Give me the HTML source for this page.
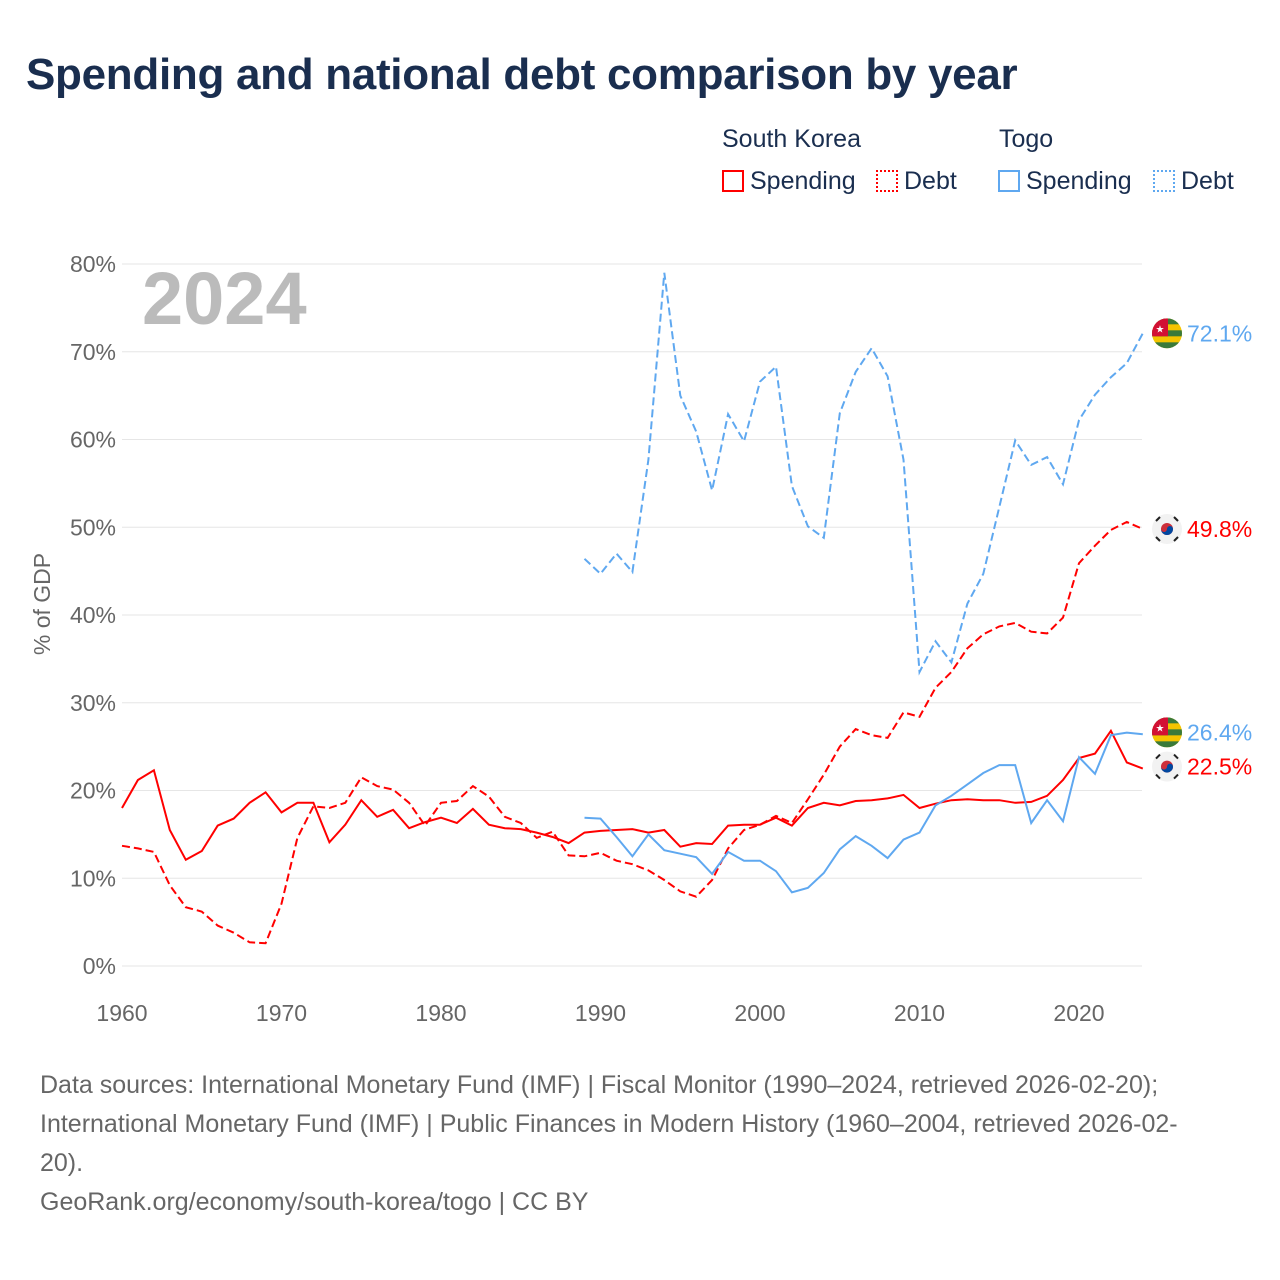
<!DOCTYPE html>
<html><head><meta charset="utf-8">
<style>
body{margin:0;background:#fff;font-family:"Liberation Sans",sans-serif;}
#wrap{position:relative;width:1280px;height:1280px;overflow:hidden}
h1{position:absolute;left:26px;top:50px;margin:0;font-size:44px;color:#1a2e4f;font-weight:bold;letter-spacing:-0.3px}
.lg{position:absolute;font-size:25px;color:#1a2e4f}
.sw{display:inline-block;width:22px;height:22px;vertical-align:-3px;margin-right:6px;box-sizing:border-box}
#src{position:absolute;left:40px;top:1066px;font-size:25px;color:#666;line-height:39px;width:1230px;white-space:nowrap}
</style></head><body>
<div id="wrap">
<h1>Spending and national debt comparison by year</h1>
<div class="lg" style="left:722px;top:125px">South Korea</div>
<div class="lg" style="left:999px;top:125px">Togo</div>
<div class="lg" style="left:722px;top:167px"><span class="sw" style="border:2px solid #f00"></span>Spending</div>
<div class="lg" style="left:876px;top:167px"><span class="sw" style="border:2px dotted #f00"></span>Debt</div>
<div class="lg" style="left:998px;top:167px"><span class="sw" style="border:2px solid #5fa8f0"></span>Spending</div>
<div class="lg" style="left:1153px;top:167px"><span class="sw" style="border:2px dotted #5fa8f0"></span>Debt</div>
<svg id="chart" width="1280" height="1280" style="position:absolute;left:0;top:0"></svg>
<div id="src">Data sources: International Monetary Fund (IMF) | Fiscal Monitor (1990–2024, retrieved 2026-02-20);<br>International Monetary Fund (IMF) | Public Finances in Modern History (1960–2004, retrieved 2026-02-<br>20).<br>GeoRank.org/economy/south-korea/togo | CC BY</div>
</div>
<script>
const yTicks=[0,10,20,30,40,50,60,70,80];
const xTicks=[1960,1970,1980,1990,2000,2010,2020];
const korYears0=1960;
const korSpending=[18.0,21.2,22.3,15.5,12.1,13.1,16.0,16.8,18.6,19.8,17.5,18.6,18.6,14.1,16.1,18.9,17.0,17.8,15.7,16.4,16.9,16.3,17.9,16.1,15.7,15.6,15.2,14.7,14.0,15.2,15.4,15.5,15.6,15.2,15.5,13.6,14.0,13.9,16.0,16.1,16.1,16.9,16.0,18.0,18.6,18.3,18.8,18.9,19.1,19.5,18.0,18.5,18.9,19.0,18.9,18.9,18.6,18.7,19.4,21.2,23.7,24.2,26.8,23.2,22.5];
const korDebt=[13.7,13.4,13.0,9.2,6.7,6.2,4.6,3.8,2.7,2.6,7.1,14.6,18.2,18.0,18.6,21.5,20.5,20.1,18.6,16.0,18.6,18.8,20.5,19.3,17.0,16.3,14.6,15.3,12.6,12.5,12.9,12.0,11.6,10.9,9.8,8.5,7.9,9.8,13.4,15.5,16.1,17.1,16.3,19.0,21.8,25.0,27.0,26.3,26.0,28.9,28.4,31.7,33.5,36.2,37.8,38.7,39.1,38.1,37.9,39.7,45.9,47.9,49.7,50.6,49.8];
const togYears0=1989;
const togSpending=[16.9,16.8,14.7,12.5,15.0,13.2,12.8,12.4,10.5,13.0,12.0,12.0,10.8,8.4,8.9,10.6,13.3,14.8,13.7,12.3,14.4,15.2,18.3,19.4,20.7,22.0,22.9,22.9,16.3,18.9,16.5,23.8,21.9,26.3,26.6,26.4];
const togDebt=[46.4,44.7,47.0,44.9,57.7,79.0,65.0,60.9,54.2,62.9,59.8,66.6,68.3,54.7,50.1,48.8,63.0,67.7,70.4,67.2,57.7,33.5,37.0,34.6,41.3,44.7,52.3,59.9,57.1,58.0,54.9,62.2,65.1,67.1,68.7,72.1];

const svg=document.getElementById('chart');
const NS='http://www.w3.org/2000/svg';
const X=y=>122+(y-1960)*(1079-122)/60;
const Y=v=>966-v*(966-264)/80;
function mk(t,a,txt){const e=document.createElementNS(NS,t);for(const k in a)e.setAttribute(k,a[k]);if(txt!=null)e.textContent=txt;svg.appendChild(e);return e;}
yTicks.forEach(v=>{
  const l=mk('line',{x1:122,x2:1142,y1:Y(v),y2:Y(v),stroke:'#e6e6e6','stroke-width':1});
  
  
  const t=mk('text',{x:116,y:Y(v)+8,'text-anchor':'end','font-size':23,fill:'#666'},v+'%');
  
  
});
xTicks.forEach(v=>{
  const t=mk('text',{x:X(v),y:1021,'text-anchor':'middle','font-size':23,fill:'#666'},v);
  
  
});
const yt=mk('text',{x:50,y:604,'text-anchor':'middle','font-size':23,fill:'#666',transform:'rotate(-90 50 604)'},'% of GDP');


const yr=mk('text',{x:142,y:324,'font-size':74,'font-weight':'bold',fill:'#bbb'},'2024');


function series(arr,y0,color,dash,name){
  const d=arr.map((v,i)=>(i?'L':'M')+X(y0+i).toFixed(1)+','+Y(v).toFixed(1)).join('');
  const p=mk('path',{d:d,fill:'none',stroke:color,'stroke-width':2,'stroke-dasharray':dash?'8,4':'none'});
  
  
}
series(korDebt,korYears0,'#f00',true,'line-korea-debt');
series(togDebt,togYears0,'#5fa8f0',true,'line-togo-debt');
series(korSpending,korYears0,'#f00',false,'line-korea-spending');
series(togSpending,togYears0,'#5fa8f0',false,'line-togo-spending');
function endLabel(arr,y0,color,flag,name,dy){
  const v=arr[arr.length-1],cy=Y(v)+(dy||0);
  const g=document.createElementNS(NS,'g');svg.appendChild(g);
  
  
  const cx=1167;
  if(flag==='togo'){
    g.innerHTML=`<clipPath id="c${name}"><circle cx="${cx}" cy="${cy}" r="15"/></clipPath><g clip-path="url(#c${name})"><rect x="${cx-15}" y="${cy-15}" width="30" height="30" fill="#f4c400"/><rect x="${cx-15}" y="${cy-15}" width="30" height="6" fill="#3a7a3a"/><rect x="${cx-15}" y="${cy-3}" width="30" height="6" fill="#3a7a3a"/><rect x="${cx-15}" y="${cy+9}" width="30" height="6" fill="#3a7a3a"/><rect x="${cx-15}" y="${cy-15}" width="16" height="18" fill="#d21034"/></g><text x="${cx-7}" y="${cy-1}" font-size="10" fill="#fff" text-anchor="middle">★</text>`;
  }else{
    g.innerHTML=`<circle cx="${cx}" cy="${cy}" r="15" fill="#f2f2f2"/><circle cx="${cx}" cy="${cy}" r="6" fill="#cd2e3a"/><path d="M${cx-6},${cy} a6,6 0 0,0 12,0 a3,3 0 0,0 -6,0 a3,3 0 0,1 -6,0z" fill="#0047a0"/><g stroke="#222" stroke-width="2"><line x1="${cx-11}" y1="${cy-8}" x2="${cx-7}" y2="${cy-12}"/><line x1="${cx+7}" y1="${cy-12}" x2="${cx+11}" y2="${cy-8}"/><line x1="${cx-11}" y1="${cy+8}" x2="${cx-7}" y2="${cy+12}"/><line x1="${cx+7}" y1="${cy+12}" x2="${cx+11}" y2="${cy+8}"/></g>`;
  }
  const t=document.createElementNS(NS,'text');
  t.setAttribute('x',1187);t.setAttribute('y',cy+8);t.setAttribute('font-size',23);t.setAttribute('fill',color);
  t.textContent=v.toFixed(1)+'%';g.appendChild(t);
}
endLabel(togDebt,togYears0,'#5fa8f0','togo','end-label-togo-debt');
endLabel(korDebt,korYears0,'#f00','korea','end-label-korea-debt');
endLabel(togSpending,togYears0,'#5fa8f0','togo','end-label-togo-spending',-2);
endLabel(korSpending,korYears0,'#f00','korea','end-label-korea-spending',-2);
</script>
</body></html>
